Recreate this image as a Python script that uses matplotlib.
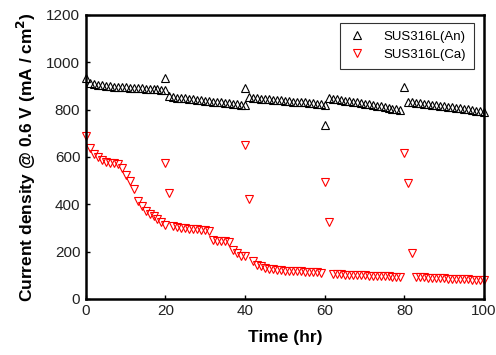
import matplotlib
matplotlib.use("Agg")
import matplotlib.pyplot as plt

plt.rcParams['font.family'] = ['Liberation Sans', 'DejaVu Sans']

# SUS316L(An) - black open up-triangles
an_t = list(range(0, 21)) + [20] + list(range(21, 41)) + [40] + list(range(41, 61)) + [60] \
    + list(range(61, 80)) + [80] + list(range(81, 101))
an_v = [934, 913, 908, 905, 902, 900, 898, 897, 896, 895, 894, 893, 892, 891, 890, 889, 887, 886, 885, 884, 883,
        934,
        858, 854, 851, 849, 847, 845, 843, 841, 839, 837, 836, 834, 832, 830, 828, 826, 824, 822, 821, 820,
        891,
        853, 850, 848, 846, 845, 843, 842, 840, 839, 837, 836, 834, 833, 831, 830, 828, 826, 824, 822, 820,
        735,
        849, 846, 843, 840, 838, 835, 833, 830, 827, 825, 822, 819, 816, 813, 810, 807, 804, 801, 798,
        896,
        832, 830, 828, 826, 824, 822, 820, 818, 816, 814, 812, 810, 808, 806, 804, 801, 798, 795, 792, 790]

# SUS316L(Ca) - red open down-triangles
ca_t = list(range(0, 21)) + [20, 21] + list(range(22, 41)) + [40, 41] + list(range(42, 60)) + [60, 61] \
    + list(range(62, 80)) + [80, 81, 82] + list(range(83, 101))
ca_v = [689, 638, 612, 598, 586, 578, 575, 574, 572, 552, 525, 497, 466, 412, 393, 370, 358, 349, 337, 327, 313,
        573, 447,
        308, 303, 300, 298, 297, 296, 295, 293, 291, 289, 247, 246, 246, 246, 242, 207, 193, 183, 180,
        651, 422,
        162, 145, 137, 132, 128, 126, 124, 122, 120, 119, 118, 117, 116, 115, 114, 113, 112, 111,
        496, 327,
        106, 105, 104, 103, 102, 101, 100, 99, 99, 98, 97, 97, 96, 95, 95, 94, 93, 92,
        615, 489, 196,
        92, 91, 91, 90, 89, 88, 88, 87, 86, 85, 85, 84, 84, 83, 82, 82, 81, 80]

fig = plt.figure(figsize=(4.96, 3.55), dpi=100)
ax = fig.add_axes([0.173, 0.158, 0.803, 0.800])

ax.plot(an_t, an_v, linestyle='none', marker='^', markersize=5.3, markerfacecolor='none',
        markeredgecolor='black', markeredgewidth=0.8, label='SUS316L(An)', clip_on=False)
ax.plot(ca_t, ca_v, linestyle='none', marker='v', markersize=5.3, markerfacecolor='none',
        markeredgecolor='red', markeredgewidth=0.8, label='SUS316L(Ca)', clip_on=False)

ax.set_xlim(0, 100)
ax.set_ylim(0, 1200)
ax.set_xticks([0, 20, 40, 60, 80, 100])
ax.set_yticks([0, 200, 400, 600, 800, 1000, 1200])
ax.tick_params(direction='in', length=3, width=1, labelsize=11, pad=4, labelcolor='#222222')
for s in ax.spines.values():
    s.set_linewidth(1.8)

ax.set_xlabel('Time (hr)', fontsize=12.5, fontweight='bold', labelpad=8)
ax.set_ylabel('Current density @ 0.6 V (mA / cm$^\\mathbf{2}$)', fontsize=12.5, fontweight='bold', labelpad=6)

leg = ax.legend(loc='upper right', bbox_to_anchor=(0.99, 0.995), fontsize=9.5, frameon=True, fancybox=False,
                edgecolor='black', handletextpad=1.2, borderpad=0.6, labelspacing=0.4, handlelength=1.5)
leg.get_frame().set_linewidth(0.8)

fig.savefig('out.png', dpi=100)
